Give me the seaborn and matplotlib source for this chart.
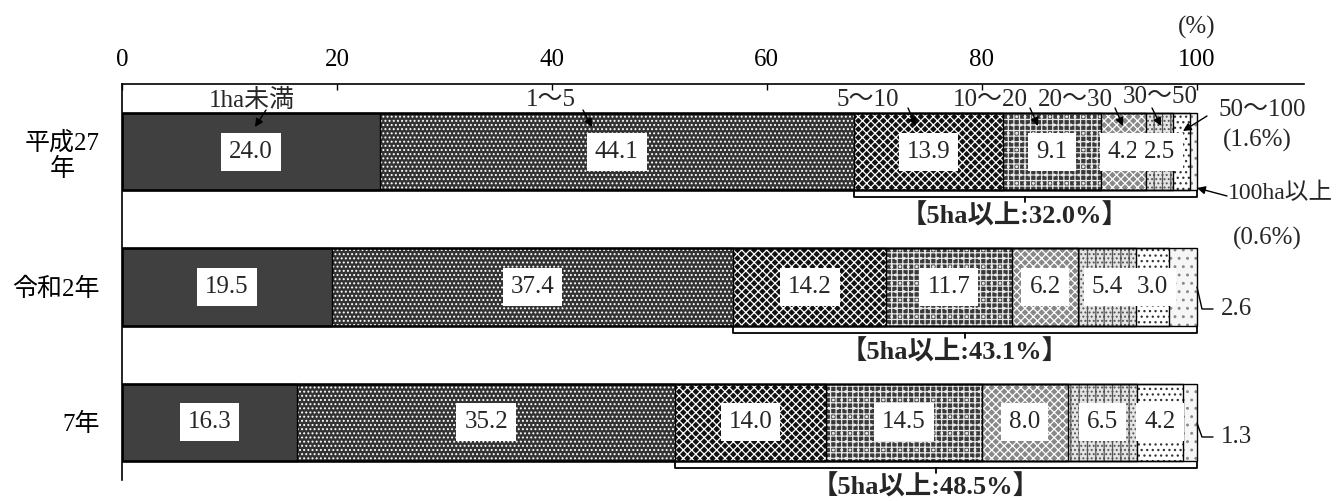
import numpy as np
import pandas as pd
import matplotlib
matplotlib.use("Agg")
import matplotlib.pyplot as plt
import seaborn as sns

# ---------------- data ----------------
years = ["平成27\n年", "令和2年", "7年"]
size_classes = ["1ha未満", "1～5", "5～10", "10～20", "20～30", "30～50", "50～100", "100ha以上"]
share_h27 = [24.0, 44.1, 13.9, 9.1, 4.2, 2.5, 1.6, 0.6]
share_r2 = [19.5, 37.4, 14.2, 11.7, 6.2, 5.4, 3.0, 2.6]
share_r7 = [16.3, 35.2, 14.0, 14.5, 8.0, 6.5, 4.2, 1.3]
over5_labels = ["【5ha以上:32.0%】", "【5ha以上:43.1%】", "【5ha以上:48.5%】"]
x_ticks = [0, 20, 40, 60, 80, 100]

# ---------------- style ----------------
sns.set_theme(style="white")
plt.rcParams["font.family"] = ["Liberation Serif", "Noto Sans CJK JP", "DejaVu Sans"]
plt.rcParams["hatch.linewidth"] = 0.9
FS = 18

# (face colour, hatch, hatch colour) per size class
styles = [
    ("#404040", None, "#404040"),
    ("#333333", "....", "white"),
    ("#111111", "xxxx", "white"),
    ("#3a3a3a", "+++..", "#e8e8e8"),
    ("#888888", "xxxx", "white"),
    ("#e4e4e4", "||....", "#555555"),
    ("#ffffff", "...", "#333333"),
    ("#f6f6f6", "..", "#888888"),
]

W_PX, H_PX = 1338, 501
fig = plt.figure(figsize=(W_PX / 100, H_PX / 100), dpi=100)
ax_l, ax_r, ax_t, ax_b = 122, 1304, 84, 480
ax = fig.add_axes([ax_l / W_PX, 1 - ax_b / H_PX, (ax_r - ax_l) / W_PX, (ax_b - ax_t) / H_PX])

XMAX = 110
Y_TOP, Y_BOT = -0.5, 2.426
px_per_x = (ax_r - ax_l) / XMAX
px_per_y = (ax_b - ax_t) / (Y_BOT - Y_TOP)


def xpx(p):
    return (p - ax_l) / px_per_x


def ypx(p):
    return Y_TOP + (p - ax_t) / px_per_y


shares = np.array([share_h27, share_r2, share_r7])
cum = shares.cumsum(axis=1)
BAR_W = 0.57

# hatched fills, longest cumulative bar first so shorter ones cover it
for k in reversed(range(len(size_classes))):
    face, hatch, hc = styles[k]
    d = pd.DataFrame({"year": years, "end": cum[:, k]})
    n0 = len(ax.patches)
    sns.barplot(data=d, x="end", y="year", orient="h", order=years, color=face,
                saturation=1, errorbar=None, width=BAR_W, ax=ax)
    for p in ax.patches[n0:]:
        p.set_facecolor(face)
        p.set_edgecolor(hc)
        p.set_linewidth(0)
        p.set_hatch(hatch)

# outlines
for k in range(len(size_classes)):
    d = pd.DataFrame({"year": years, "end": cum[:, k]})
    n0 = len(ax.patches)
    sns.barplot(data=d, x="end", y="year", orient="h", order=years, color="black",
                saturation=1, errorbar=None, width=BAR_W, ax=ax)
    for p in ax.patches[n0:]:
        p.set_facecolor("none")
        p.set_edgecolor("black")
        p.set_linewidth(1.0)
        p.set_hatch(None)
        p.set_zorder(3)

ax.set_xlim(0, XMAX)
ax.set_ylim(Y_BOT, Y_TOP)
ax.set_xlabel("")
ax.set_ylabel("")

# axes / ticks
for s in ["bottom", "right"]:
    ax.spines[s].set_visible(False)
for s in ["top", "left"]:
    ax.spines[s].set_visible(True)
    ax.spines[s].set_color("black")
    ax.spines[s].set_linewidth(1.2)
ax.xaxis.tick_top()
ax.set_xticks(x_ticks)
ax.set_xticklabels([str(v) for v in x_ticks])
ax.tick_params(axis="x", direction="in", length=4.5, width=1, pad=9, labelsize=FS,
               top=True, bottom=False, labeltop=True, labelbottom=False, colors="black")
ax.tick_params(axis="y", length=0, pad=16, labelsize=FS, colors="black")
for t in ax.get_yticklabels():
    t.set_multialignment("center")

ax.text(100, ypx(27), "(%)", ha="center", va="center", fontsize=FS, clip_on=False)

# value boxes
box = dict(boxstyle="square,pad=0.32", facecolor="white", edgecolor="none")
inside_count = [6, 7, 7]
for i in range(len(years)):
    for k in range(inside_count[i]):
        xc = cum[i, k] - shares[i, k] / 2
        ax.text(xc, i, f"{shares[i, k]:.1f}", ha="center", va="center", fontsize=FS,
                bbox=box, zorder=6)

# size-class labels with arrows (first bar)
arrow_kw = dict(arrowstyle="-|>", color="black", lw=1.0, mutation_scale=12,
                shrinkA=0, shrinkB=0)
cls_text_px = [(252, 100), (551, 100), (868, 100), (990, 100), (1075, 100), (1160, 97)]
cls_arrow_px = [((266, 110), (255, 127)), ((583, 110), (592, 127)), ((908, 108), (916, 126)),
                ((1030, 108), (1038, 126)), ((1115, 108), (1123, 126)), ((1152, 108), (1161, 126))]
for k in range(6):
    tx, ty = cls_text_px[k]
    ax.text(xpx(tx), ypx(ty), size_classes[k], ha="center", va="center", fontsize=FS, zorder=7)
    (ax0, ay0), (ax1, ay1) = cls_arrow_px[k]
    ax.annotate("", xy=(xpx(ax1), ypx(ay1)), xytext=(xpx(ax0), ypx(ay0)),
                arrowprops=arrow_kw, zorder=7, annotation_clip=False)

ax.text(xpx(1262), ypx(110), size_classes[6], ha="center", va="center", fontsize=FS, clip_on=False)
ax.text(xpx(1257), ypx(140), f"({shares[0, 6]:.1f}%)", ha="center", va="center", fontsize=FS, clip_on=False)
ax.annotate("", xy=(xpx(1183), ypx(131)), xytext=(xpx(1207), ypx(116)),
            arrowprops=arrow_kw, zorder=7, annotation_clip=False)

ax.text(xpx(1228), ypx(193), size_classes[7], ha="left", va="center", fontsize=17, clip_on=False)
ax.text(xpx(1267), ypx(238), f"({shares[0, 7]:.1f}%)", ha="center", va="center", fontsize=FS, clip_on=False)
ax.annotate("", xy=(xpx(1197), ypx(188)), xytext=(xpx(1227), ypx(196)),
            arrowprops=arrow_kw, zorder=7, annotation_clip=False)

# outside labels for 100ha+ (later years) with leader lines
for i, (y0, y1) in zip([1, 2], [(287, 309), (423, 437)]):
    ax.plot([xpx(1197), xpx(1202), xpx(1213)], [ypx(y0), ypx(y1), ypx(y1)],
            color="black", lw=1.0, clip_on=False, zorder=7)
    ax.text(xpx(1221), ypx(y1), f"{shares[i, 7]:.1f}", ha="left", va="center",
            fontsize=FS, clip_on=False)

# brackets for 5ha and over
hook = 6 / px_per_y
tick = 5 / px_per_y
for i in range(len(years)):
    x0, x1 = cum[i, 1], cum[i, -1]
    yb = i + BAR_W / 2 + 7 / px_per_y
    ax.plot([x0, x0, x1, x1], [yb - hook, yb, yb, yb - hook], color="black", lw=1.3,
            clip_on=False, zorder=7, solid_capstyle="round")
    xm = (x0 + x1) / 2
    ax.plot([xm, xm], [yb, yb + tick], color="black", lw=1.3, clip_on=False, zorder=7)
    ax.text(xm - 1.0, yb + 19 / px_per_y, over5_labels[i], ha="center", va="center",
            fontsize=19, fontweight="bold", clip_on=False, zorder=7)

fig.savefig("out.png", dpi=100, facecolor="white")
